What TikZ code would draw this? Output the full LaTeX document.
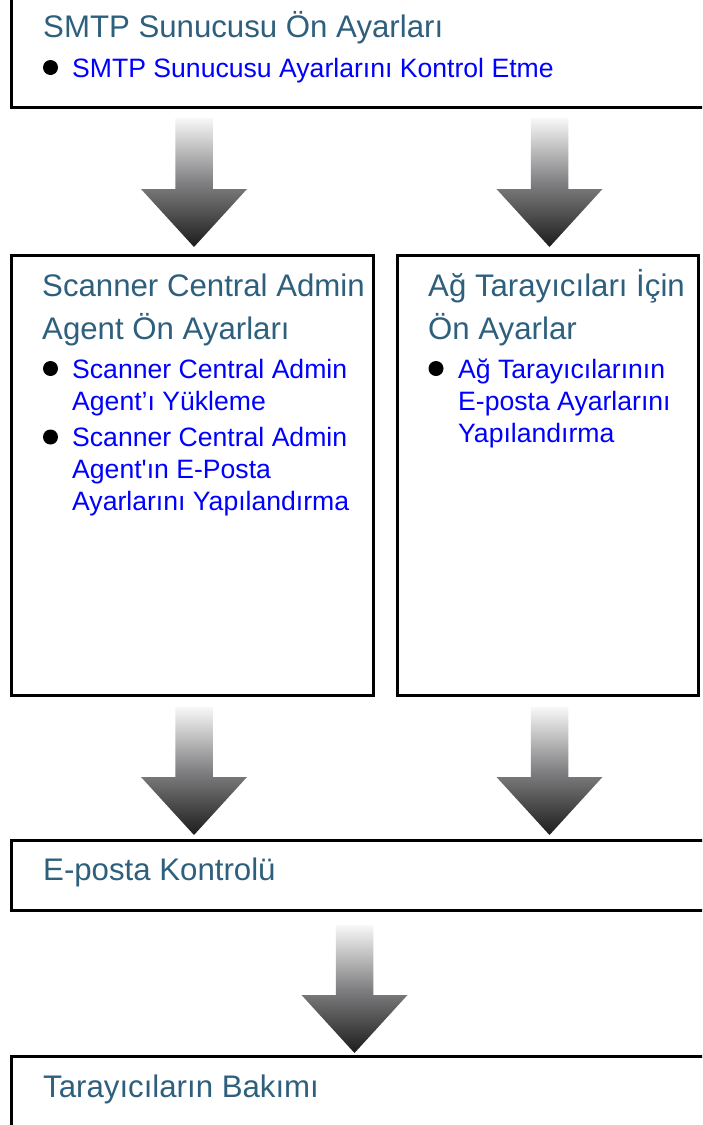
\documentclass[tikz,border=0pt]{standalone}
\usepackage{fontspec}
\setmainfont{Liberation Sans}
\usetikzlibrary{calc}
\definecolor{titleblue}{RGB}{46,95,125}
\definecolor{linkblue}{RGB}{0,0,255}
\definecolor{arrowtop}{RGB}{248,248,248}
\definecolor{arrowmid}{RGB}{128,128,130}
\definecolor{arrowbot}{RGB}{28,28,28}
\newcommand{\fatarrow}[2]{%
  \shade[arrowfill] let \p1=(#1), \p2=(#2) in
    (\x1-18.75pt,\y1) -- (\x1+18.75pt,\y1) -- (\x1+18.75pt,\y2+58pt)
    -- (\x1+53pt,\y2+58pt) -- (\x1,\y2) -- (\x1-53pt,\y2+58pt)
    -- (\x1-18.75pt,\y2+58pt) -- cycle;}
\begin{document}
\begin{tikzpicture}[x=1pt,y=-1pt,
  boxshape/.style={draw=black, line width=3pt, rectangle, inner sep=0pt, outer sep=0pt},
  titletext/.style={anchor=base west, inner sep=0pt, text=titleblue, font=\fontsize{31.2}{37}\selectfont},
  linktext/.style={anchor=base west, inner sep=0pt, text=linkblue, font=\fontsize{26.6}{32}\selectfont},
  bulletdot/.style={circle, fill=black, inner sep=0pt, minimum size=15pt},
  arrowfill/.style={top color=arrowtop, bottom color=arrowbot, middle color=arrowmid}]
\useasboundingbox (0,0) rectangle (702,1125);
\clip (0,0) rectangle (702,1125);
\fill[white] (0,0) rectangle (702,1125);

% boxes
\node[boxshape, minimum width=708.5pt, minimum height=127.5pt] (smtp) at (365.75,43.75) {};
\node[boxshape, minimum width=361.5pt, minimum height=440pt] (agent) at (192.25,475) {};
\node[boxshape, minimum width=301pt, minimum height=440pt] (network) at (548,475) {};
\node[boxshape, minimum width=708.5pt, minimum height=70.5pt] (check) at (365.75,875.25) {};
\node[boxshape, minimum width=708.5pt, minimum height=84pt] (maint) at (365.75,1098) {};

% top box text
\node[titletext] (t1) at (43,37.5) {SMTP Sunucusu Ön Ayarları};
\node[bulletdot] (b1) at (50.5,67.5) {};
\node[linktext] (l1) at (72,77) {SMTP Sunucusu Ayarlarını Kontrol Etme};

% agent box text
\node[titletext] (t2a) at (42,296) {Scanner Central Admin};
\node[titletext] (t2b) at (42,339) {Agent Ön Ayarları};
\node[bulletdot] (b2) at (50.5,368.5) {};
\node[linktext] (l2a) at (72,378) {Scanner Central Admin};
\node[linktext] (l2b) at (72,410) {Agent’ı Yükleme};
\node[bulletdot] (b3) at (50.5,437) {};
\node[linktext] (l3a) at (72,446.5) {Scanner Central Admin};
\node[linktext] (l3b) at (72,478.5) {Agent\textquotesingle ın E-Posta};
\node[linktext] (l3c) at (72,510.5) {Ayarlarını Yapılandırma};

% network box text
\node[titletext] (t3a) at (428,296) {Ağ Tarayıcıları İçin};
\node[titletext] (t3b) at (428,339) {Ön Ayarlar};
\node[bulletdot] (b4) at (436,368.5) {};
\node[linktext] (l4a) at (458,378) {Ağ Tarayıcılarının};
\node[linktext] (l4b) at (458,410) {E-posta Ayarlarını};
\node[linktext] (l4c) at (458,442) {Yapılandırma};

% check and maintenance text
\node[titletext] (t4) at (43,880) {E-posta Kontrolü};
\node[titletext] (t5) at (43,1097) {Tarayıcıların Bakımı};

% arrow end points
\coordinate (a1s) at (194,118);   \coordinate (a1e) at (194,247);
\coordinate (a2s) at (549.5,118); \coordinate (a2e) at (549.5,247);
\coordinate (a3s) at (194,707);   \coordinate (a3e) at (194,835);
\coordinate (a4s) at (549.5,707); \coordinate (a4e) at (549.5,835);
\coordinate (a5s) at (354.5,925); \coordinate (a5e) at (354.5,1053);

\fatarrow{a1s}{a1e}
\fatarrow{a2s}{a2e}
\fatarrow{a3s}{a3e}
\fatarrow{a4s}{a4e}
\fatarrow{a5s}{a5e}
\end{tikzpicture}
\end{document}
